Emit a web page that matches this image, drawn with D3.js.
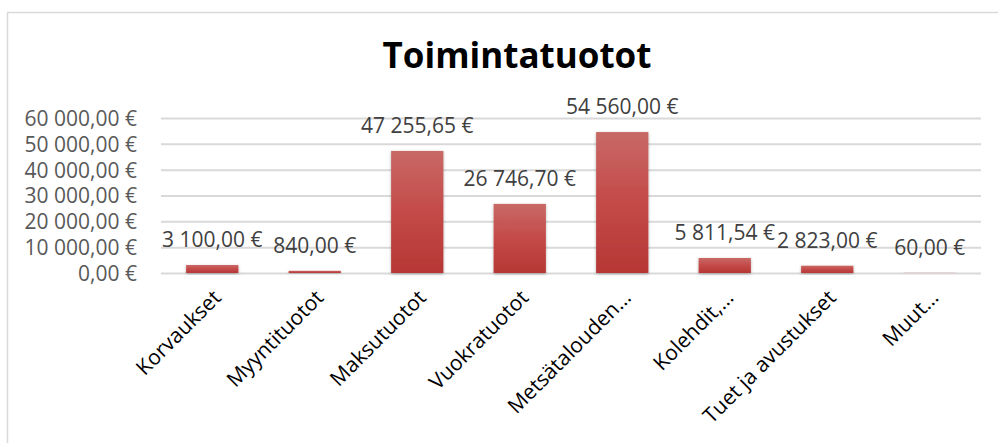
<!DOCTYPE html>
<html>
<head>
<meta charset="utf-8">
<script src="https://cdn.jsdelivr.net/npm/d3@7"></script>
<style>
  body { margin: 0; background: #fff; }
  svg { display: block; font-family: "Open Sans", sans-serif; }
</style>
</head>
<body>
<svg id="chart" width="998" height="443"></svg>
<script>
// data
const categories = ["Korvaukset", "Myyntituotot", "Maksutuotot", "Vuokratuotot",
  "Metsätalouden…", "Kolehdit,…", "Tuet ja avustukset", "Muut…"];
const values = [3100, 840, 47255.65, 26746.70, 54560, 5811.54, 2823, 60];
const yTicks = [0, 10000, 20000, 30000, 40000, 50000, 60000];
const title = "Toimintatuotot";

const svg = d3.select("#chart");

// chart border
svg.append("rect")
  .attr("x", 7.5).attr("y", 12.5)
  .attr("width", 1000).attr("height", 440)
  .attr("fill", "#fff").attr("stroke", "#d9d9d9").attr("stroke-width", 1.5);

// gradient for bars
const defs = svg.append("defs");
const grad = defs.append("linearGradient").attr("id", "barGrad")
  .attr("x1", 0).attr("y1", 0).attr("x2", 0).attr("y2", 1);
grad.append("stop").attr("offset", "0%").attr("stop-color", "#c86966");
grad.append("stop").attr("offset", "50%").attr("stop-color", "#c44a48");
grad.append("stop").attr("offset", "100%").attr("stop-color", "#b63735");
const shadow = defs.append("filter").attr("id", "shadow")
  .attr("x", "-20%").attr("y", "-20%").attr("width", "140%").attr("height", "140%");
shadow.append("feDropShadow").attr("dx", 0).attr("dy", 1).attr("stdDeviation", 1.5)
  .attr("flood-color", "#000").attr("flood-opacity", 0.3);

// scales
const x = d3.scaleBand().domain(categories).range([161, 981]).paddingInner(0.49).paddingOuter(0.245);
const y = d3.scaleLinear().domain([0, 60000]).range([273, 118]);

const fmt = v => {
  const s = d3.format(",.2f")(v);
  return s.replace(/,/g, " ").replace(".", ",") + " €";
};

// gridlines + y labels
const yAxis = svg.append("g").attr("transform", "translate(161,0)")
  .call(d3.axisLeft(y).tickValues(yTicks).tickSize(-820).tickFormat(fmt));
yAxis.select(".domain").remove();
yAxis.selectAll(".tick line").attr("stroke", "#d9d9d9").attr("stroke-width", 2);
yAxis.selectAll(".tick text")
  .attr("x", -24).attr("dy", "0.35em")
  .attr("fill", "#595959").style("font-size", "21px").style("font-family", "Open Sans");

// title
svg.append("text")
  .attr("x", 517).attr("y", 68)
  .attr("text-anchor", "middle")
  .style("font-size", "35px").style("font-weight", "bold")
  .attr("fill", "#000")
  .text(title);

// bars
svg.append("g").selectAll("rect")
  .data(values)
  .join("rect")
  .attr("x", (d, i) => x(categories[i]))
  .attr("width", x.bandwidth())
  .attr("y", d => y(d))
  .attr("height", d => y(0) - y(d))
  .attr("fill", "url(#barGrad)")
  .attr("filter", "url(#shadow)");

// data labels
svg.append("g").selectAll("text")
  .data(values)
  .join("text")
  .attr("x", (d, i) => x(categories[i]) + x.bandwidth() / 2)
  .attr("y", d => y(d) - 18)
  .attr("text-anchor", "middle")
  .attr("fill", "#404040")
  .style("font-size", "21px")
  .text(d => fmt(d));

// category labels
const xAxis = svg.append("g").attr("transform", "translate(0,273)")
  .call(d3.axisBottom(x).tickSize(0).tickFormat(d => d));
xAxis.select(".domain").remove();
xAxis.selectAll(".tick text")
  .attr("text-anchor", "end")
  .attr("fill", "#000")
  .style("font-size", "21px").style("font-family", "Open Sans")
  .attr("dy", 0).attr("y", 0)
  .attr("transform", "translate(10,26) rotate(-45)");
</script>
</body>
</html>
